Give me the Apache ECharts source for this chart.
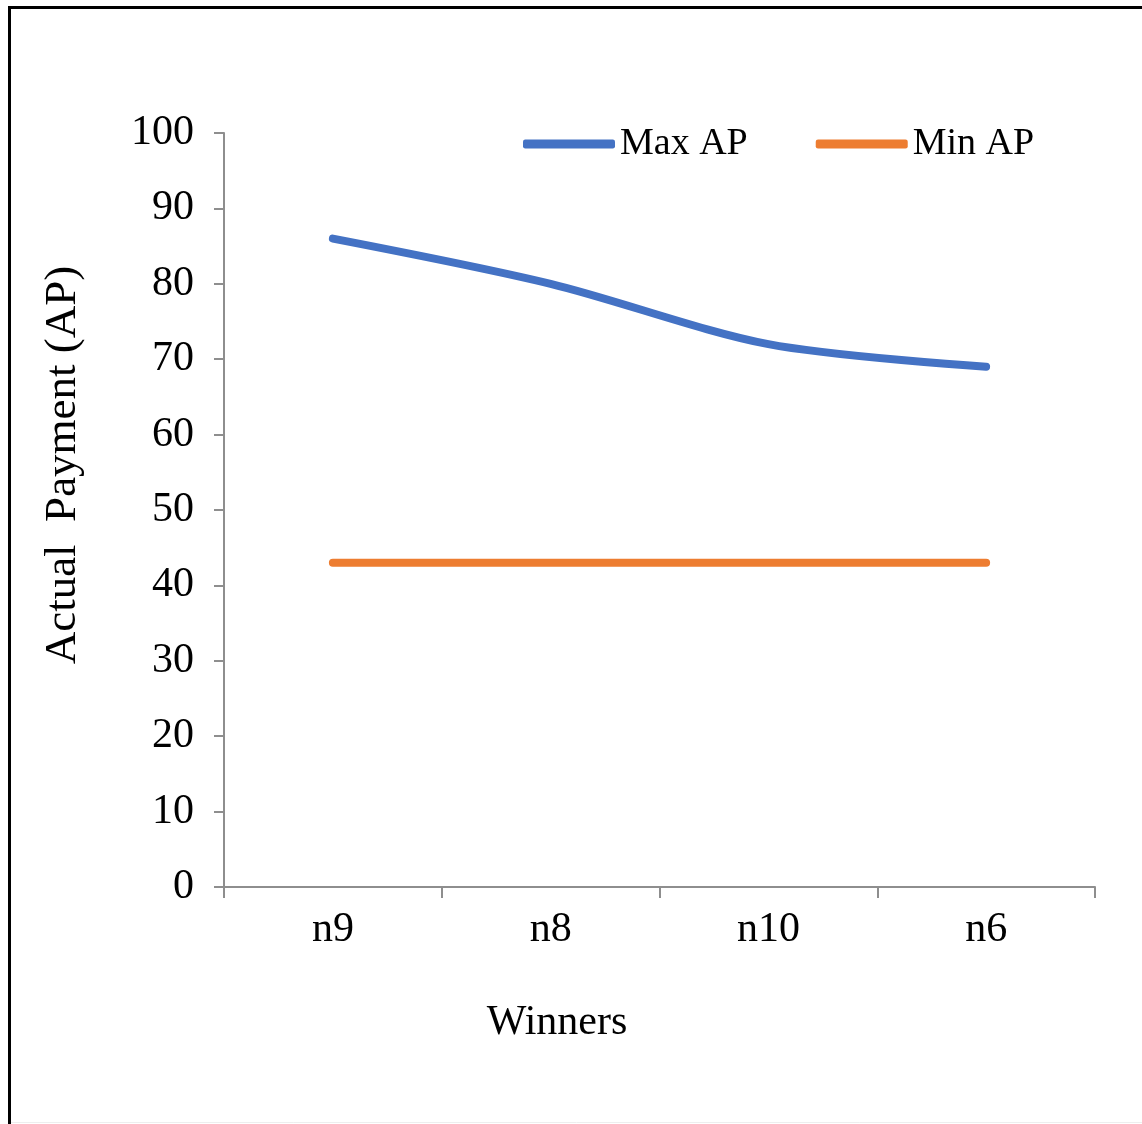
<!DOCTYPE html>
<html>
<head>
<meta charset="utf-8">
<title>Actual Payment by Winner</title>
<script src="https://cdn.jsdelivr.net/npm/echarts@6/dist/echarts.min.js"></script>
<style>
  html, body { margin: 0; padding: 0; background: #ffffff; }
  #chart { width: 1142px; height: 1124px; }
</style>
</head>
<body>
<div id="chart"></div>
<script>
// Winners along the x axis
const winners = ['n9', 'n8', 'n10', 'n6'];
// Actual payment values per winner
const maxAP = [86, 80, 72, 69];
const minAP = [43, 43, 43, 43];
// Series names
const seriesNames = ['Max AP', 'Min AP'];

const serif = '"Liberation Serif", "Times New Roman", serif';
const axisGray = '#8e8e8e';

const chart = echarts.init(document.getElementById('chart'), null, { renderer: 'canvas' });

chart.setOption({
  backgroundColor: '#ffffff',
  animation: false,
  grid: { left: 224, right: 47, top: 133, bottom: 237, containLabel: false },
  legend: {
    data: seriesNames,
    left: 518,
    top: 120,
    icon: 'roundRect',
    itemWidth: 92,
    itemHeight: 9,
    itemGap: 68,
    textStyle: { fontFamily: serif, fontSize: 38, color: '#000000' }
  },
  xAxis: {
    type: 'category',
    data: winners,
    boundaryGap: true,
    axisLine: { show: true, lineStyle: { color: axisGray, width: 2 } },
    axisTick: { show: true, length: 11, alignWithLabel: false, lineStyle: { color: axisGray, width: 2 } },
    axisLabel: { margin: 22, fontFamily: serif, fontSize: 42, color: '#000000' },
    splitLine: { show: false }
  },
  yAxis: {
    type: 'value',
    min: 0,
    max: 100,
    interval: 10,
    axisLine: { show: true, lineStyle: { color: axisGray, width: 2 } },
    axisTick: { show: true, length: 10, lineStyle: { color: axisGray, width: 2 } },
    axisLabel: { margin: 30, fontFamily: serif, fontSize: 42, color: '#000000' },
    splitLine: { show: false }
  },
  series: [
    {
      name: seriesNames[0],
      type: 'line',
      data: maxAP,
      smooth: 0.3,
      showSymbol: false,
      symbol: 'none',
      color: '#4472C4',
      lineStyle: { color: '#4472C4', width: 8, cap: 'round', join: 'round' }
    },
    {
      name: seriesNames[1],
      type: 'line',
      data: minAP,
      showSymbol: false,
      symbol: 'none',
      color: '#ED7D31',
      lineStyle: { color: '#ED7D31', width: 8, cap: 'round' }
    }
  ],
  graphic: [
    // frame around the figure (top and left edges)
    { type: 'line', shape: { x1: 8, y1: 7.5, x2: 1142, y2: 7.5 }, style: { stroke: '#000000', lineWidth: 3 } },
    { type: 'line', shape: { x1: 9.5, y1: 6, x2: 9.5, y2: 1124 }, style: { stroke: '#000000', lineWidth: 3 } },
    { type: 'line', shape: { x1: 11, y1: 1122.5, x2: 1142, y2: 1122.5 }, style: { stroke: '#eeeeee', lineWidth: 1 } },
    // axis titles
    {
      type: 'text',
      x: 63,
      y: 465,
      rotation: Math.PI / 2,
      style: {
        text: 'Actual  Payment (AP)',
        font: '45px ' + serif,
        fill: '#000000',
        align: 'center',
        verticalAlign: 'middle'
      }
    },
    {
      type: 'text',
      x: 557,
      y: 1023,
      style: {
        text: 'Winners',
        font: '42px ' + serif,
        fill: '#000000',
        align: 'center',
        verticalAlign: 'middle'
      }
    }
  ]
});
</script>
</body>
</html>
